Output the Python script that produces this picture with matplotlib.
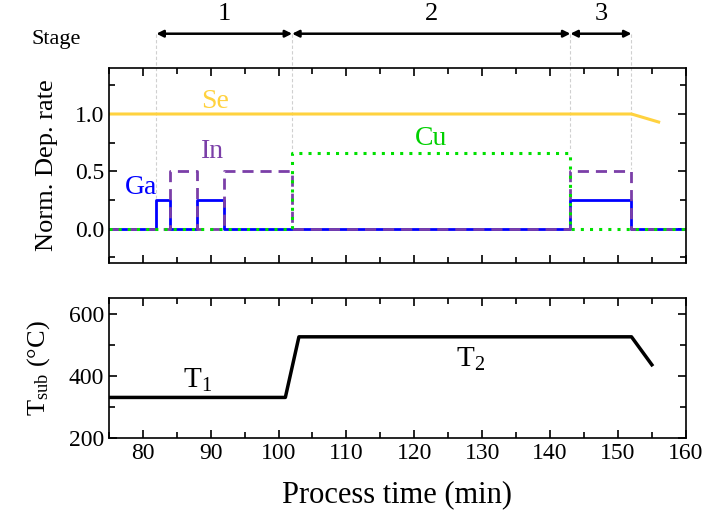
import matplotlib.pyplot as plt

plt.rcParams['font.family'] = ['Liberation Serif', 'DejaVu Serif']
plt.rcParams['mathtext.fontset'] = 'custom'
plt.rcParams['mathtext.rm'] = 'Liberation Serif'
plt.rcParams['mathtext.it'] = 'Liberation Serif:italic'

# deposition rate profiles (step, post)
ga_t = [75, 82, 84, 88, 92, 143, 152, 160]
ga_v = [0, 0.25, 0, 0.25, 0, 0.25, 0, 0]
in_t = [75, 84, 88, 92, 102, 143, 152, 160]
in_v = [0, 0.5, 0, 0.5, 0, 0.5, 0, 0]
cu_t = [75, 102, 143, 160]
cu_v = [0, 0.66, 0, 0]
se_t = [75, 152, 156]
se_v = [1.0, 1.0, 0.93]

# substrate temperature
temp_t = [75, 101, 103, 152, 155]
temp_v = [330, 330, 525, 525, 435]

# stage boundaries
stage_edges = [82, 102, 143, 152]
stage_names = ["1", "2", "3"]
edge_bottoms = [0.27, 0.68, 0.68, 0.52]

fig = plt.figure(figsize=(7.07, 5.2), dpi=100)
ax1 = fig.add_axes([0.154, 0.494, 0.816, 0.375])
ax2 = fig.add_axes([0.154, 0.158, 0.816, 0.269])

ax1.plot(se_t, se_v, color='#FFD23F', lw=2.2)
ax1.step(ga_t, ga_v, where='post', color='#0000FF', lw=2)
ax1.step(in_t, in_v, where='post', color='#7B3FA8', lw=2, ls=(0, (4, 2.5)))
ax1.step(cu_t, cu_v, where='post', color='#00E000', lw=2.2, ls=(0, (1, 2)))

ax1.text(90.7, 1.11, "Se", color='#FFD23F', fontsize=20, ha='center', va='center')
ax1.text(90.2, 0.67, "In", color='#7B3FA8', fontsize=20, ha='center', va='center')
ax1.text(79.8, 0.36, "Ga", color='#0000FF', fontsize=20, ha='center', va='center')
ax1.text(122.5, 0.79, "Cu", color='#00D000', fontsize=20, ha='center', va='center')

# stage arrows on top
arrow_y = 1.70
for i, name in enumerate(stage_names):
    x0, x1 = stage_edges[i], stage_edges[i + 1]
    ax1.annotate("", xy=(x0, arrow_y), xytext=(x1, arrow_y),
                 arrowprops=dict(arrowstyle='<|-|>', color='black', lw=1.8,
                                 mutation_scale=10, shrinkA=0, shrinkB=0),
                 annotation_clip=False)
    ax1.text((x0 + x1) / 2, 1.87, name, fontsize=19, ha='center', va='center')
for x, yb in zip(stage_edges, edge_bottoms):
    ax1.plot([x, x], [arrow_y, yb], color='#d0d0d0', lw=0.8, ls=(0, (3, 2)),
             clip_on=False, zorder=0)
ax1.text(67.3, 1.65, "Stage", fontsize=16, ha='center', va='center')

ax1.set_xlim(75, 160)
ax1.set_ylim(-0.3, 1.4)
ax1.set_yticks([0.0, 0.5, 1.0])
ax1.set_yticks([-0.25, 0.25, 0.75, 1.25], minor=True)
ax1.set_xticks(range(80, 161, 10))
ax1.set_xticks(range(75, 161, 5), minor=True)
ax1.set_xticklabels([])
ax1.set_ylabel("Norm. Dep. rate", fontsize=19, labelpad=12)

ax2.plot(temp_t, temp_v, color='black', lw=2.5)
ax2.text(88, 385, "T$_1$", fontsize=21, ha='center', va='center')
ax2.text(128.3, 453, "T$_2$", fontsize=21, ha='center', va='center')
ax2.set_xlim(75, 160)
ax2.set_ylim(200, 650)
ax2.set_yticks([200, 400, 600])
ax2.set_yticks([300, 500], minor=True)
ax2.set_xticks(range(80, 161, 10))
ax2.set_xticks(range(75, 161, 5), minor=True)
ax2.set_ylabel("T$_\\mathrm{sub}$ (°C)", fontsize=19, labelpad=12)
ax2.set_xlabel("Process time (min)", fontsize=22, labelpad=12)

for ax in (ax1, ax2):
    ax.tick_params(which='both', direction='in', top=True, right=True,
                   labelsize=17, width=1.2)
    ax.tick_params(which='major', length=6)
    ax.tick_params(which='minor', length=4)
    for s in ax.spines.values():
        s.set_linewidth(1.2)

plt.savefig("out.png", dpi=100)
